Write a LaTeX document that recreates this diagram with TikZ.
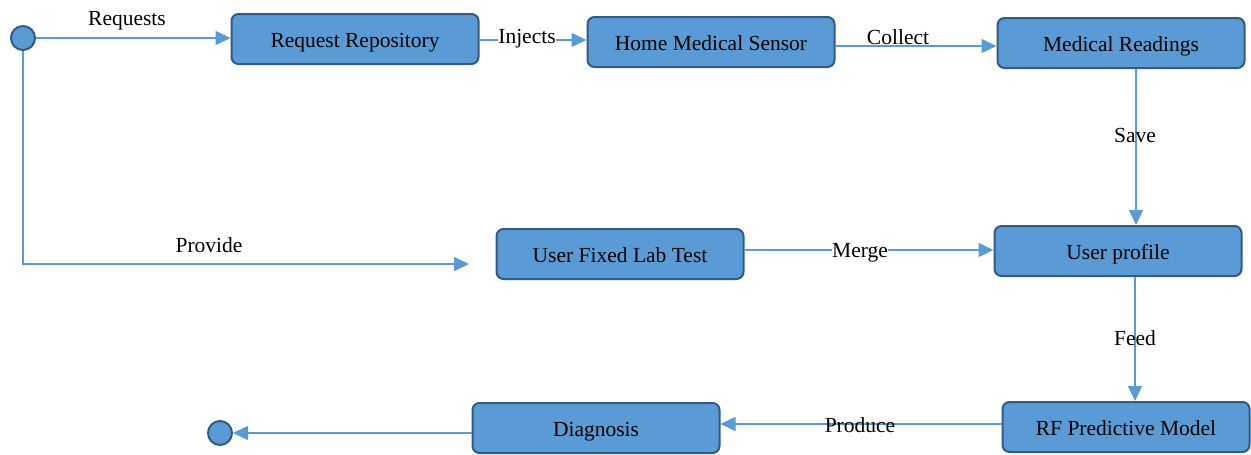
\documentclass[tikz,border=0pt]{standalone}
\usepackage{fontspec}
\setmainfont{Liberation Serif}
\usetikzlibrary{arrows.meta}
\definecolor{boxfill}{HTML}{5B9BD5}
\definecolor{boxdraw}{HTML}{2F5B85}
\definecolor{linecol}{HTML}{5B9BD5}
\begin{document}
\begin{tikzpicture}[x=1pt,y=-1pt,
  state/.style={draw=boxdraw,fill=boxfill,line width=2pt,rounded corners=7pt,
    minimum width=247pt,minimum height=50pt,font=\fontsize{21.5}{24}\selectfont,inner sep=0pt,text depth=0pt,text height=16pt},
  endpoint/.style={circle,draw=boxdraw,fill=boxfill,line width=2pt,minimum size=24pt,inner sep=0pt},
  conn/.style={draw=linecol,line width=1.5pt,-{Triangle[length=15pt,width=14pt]}},
  lbl/.style={font=\fontsize{21.5}{24}\selectfont,inner sep=1pt,yshift=-2.5pt}]
\useasboundingbox (0,0) rectangle (1251,455);
\node[endpoint] (start) at (23,38) {};
\node[state] (rr) at (355,39) {Request Repository};
\node[state] (hms) at (711,42) {Home Medical Sensor};
\node[state] (mr) at (1121,43) {Medical Readings};
\node[state] (uflt) at (620,254) {User Fixed Lab Test};
\node[state] (up) at (1118,251) {User profile};
\node[state] (rf) at (1126,427) {RF Predictive Model};
\node[state] (diag) at (596,428) {Diagnosis};
\node[endpoint] (end) at (220,433) {};
\coordinate (provend) at (469,264);

\draw[conn] (start.east) -- (rr.west |- start.east);
\node[lbl] at (127,18) {Requests};
\draw[conn] (rr.east |- 0,40) -- (hms.west |- 0,40);
\node[lbl,fill=white,inner sep=0pt] at (527,36) {Injects};
\draw[conn] (hms.east |- 0,46) -- (mr.west |- 0,46);
\node[lbl] at (898,35) {Collect};
\draw[conn] (mr.south -| 1136,0) -- (up.north -| 1136,0);
\node[lbl] at (1135,133) {Save};
\draw[conn] (start.south) |- (provend);
\node[lbl] at (209,243) {Provide};
\draw[conn] (uflt.east |- 0,250) -- (up.west |- 0,250);
\node[lbl,fill=white,inner sep=0pt] at (860,250) {Merge};
\draw[conn] (up.south -| 1135,0) -- (rf.north -| 1135,0);
\node[lbl] at (1135,336) {Feed};
\draw[conn] (rf.west |- 0,424) -- (diag.east |- 0,424);
\node[lbl] at (860,423) {Produce};
\draw[conn] (diag.west |- 0,433) -- (end.east);
\end{tikzpicture}
\end{document}
